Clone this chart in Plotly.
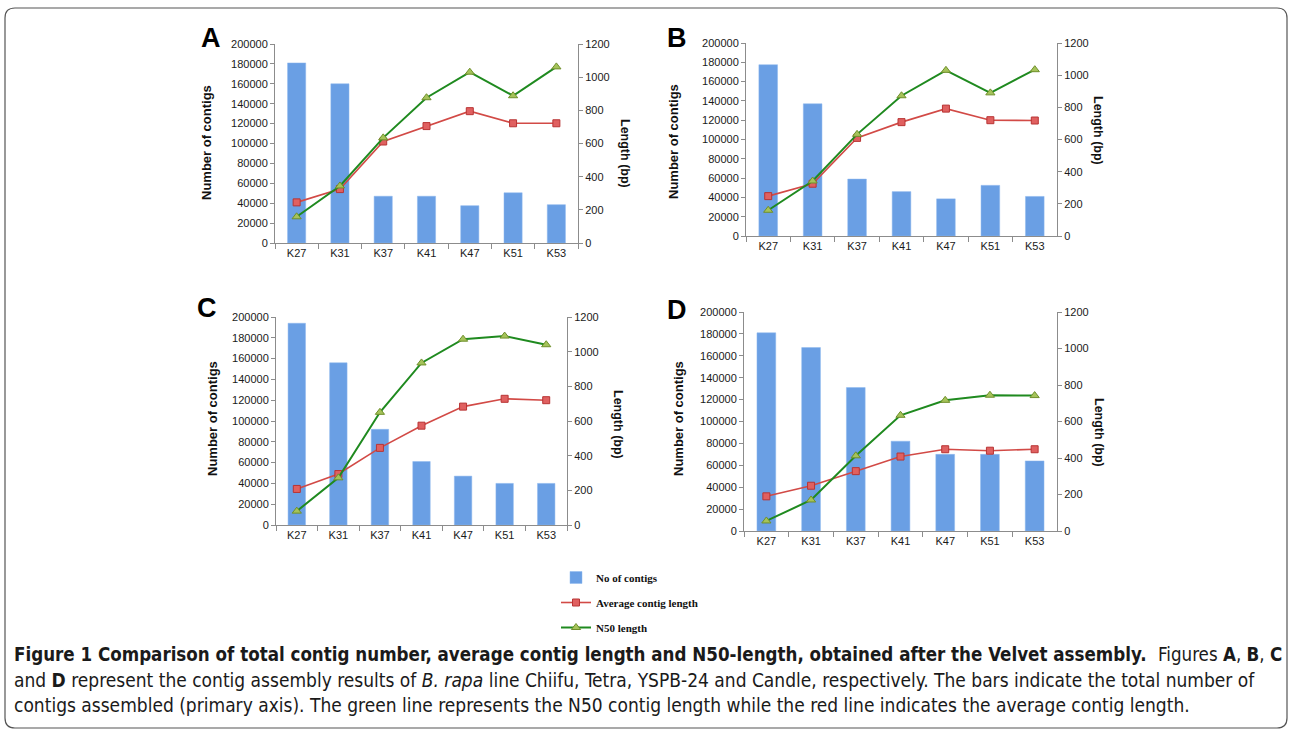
import plotly.graph_objects as go

categories = ["K27", "K31", "K37", "K41", "K47", "K51", "K53"]

# Number of contigs (primary axis)
contigs_A = [181000, 160000, 47000, 47000, 37500, 50500, 38500]
contigs_B = [177500, 137000, 59000, 46000, 38500, 52500, 41000]
contigs_C = [194000, 156000, 92000, 61000, 47000, 40000, 40000]
contigs_D = [181000, 167500, 131000, 82000, 70000, 70000, 64000]

# Average contig length (secondary axis, bp)
avg_A = [245, 325, 612, 705, 795, 722, 722]
avg_B = [248, 325, 610, 708, 792, 720, 718]
avg_C = [208, 294, 445, 573, 683, 728, 720]
avg_D = [190, 248, 328, 408, 448, 440, 448]

# N50 length (secondary axis, bp)
n50_A = [158, 344, 634, 876, 1030, 888, 1062]
n50_B = [160, 342, 632, 872, 1030, 890, 1034]
n50_C = [80, 272, 650, 935, 1072, 1090, 1040]
n50_D = [55, 170, 412, 634, 716, 744, 742]

panel_letters = ["A", "B", "C", "D"]
contigs = [contigs_A, contigs_B, contigs_C, contigs_D]
avgs = [avg_A, avg_B, avg_C, avg_D]
n50s = [n50_A, n50_B, n50_C, n50_D]

W, H = 1290, 733
def px(x):
    return x / W
def py(y):
    return 1 - y / H

# panel geometry in pixels: (left, right, top, bottom)
geom = [(275, 578, 44, 243), (746, 1057, 43, 236), (276, 567, 317, 525), (744, 1057, 312, 531)]
letter_pos = [(211, 38), (677, 38), (207, 308), (677, 310)]
ytitle_pos = [(206, 143), (673, 142), (212, 419), (678, 419)]
rtitle_pos = [(625, 153), (1098, 130), (618, 424), (1099, 432)]

BAR_COLOR = "#6a9fe4"
AXIS_COLOR = "#8c8c8c"
SANS = "Liberation Sans, Arial, sans-serif"
SERIF = "Liberation Serif, Times New Roman, serif"
TICK_FONT = dict(family=SANS, size=11, color="#1a1a1a")

fig = go.Figure()
layout = {}
annotations = []

def ann(text, x, y, **kw):
    d = dict(text=text, x=px(x), y=py(y), xref="paper", yref="paper",
             showarrow=False, xanchor="center", yanchor="middle")
    d.update(kw)
    return d

for i in range(4):
    xa = "x" if i == 0 else f"x{i+1}"
    yl_n = 2 * i + 1
    yr_n = 2 * i + 2
    yl = "y" if yl_n == 1 else f"y{yl_n}"
    yr = f"y{yr_n}"
    show = i == 0

    fig.add_trace(go.Bar(
        x=categories, y=contigs[i], xaxis=xa, yaxis=yl,
        marker=dict(color=BAR_COLOR, line=dict(color="#8fb8ee", width=0.5)),
        name="No of contigs", legendgroup="bars", showlegend=show))
    fig.add_trace(go.Scatter(
        x=categories, y=avgs[i], xaxis=xa, yaxis=yr, mode="lines+markers",
        line=dict(color="#d24a46", width=1.6),
        marker=dict(symbol="square", size=7, color="#e06060", line=dict(color="#b83434", width=1)),
        name="Average contig length", legendgroup="avg", showlegend=show))
    fig.add_trace(go.Scatter(
        x=categories, y=n50s[i], xaxis=xa, yaxis=yr, mode="lines+markers",
        line=dict(color="#1f8a1f", width=2),
        marker=dict(symbol="triangle-up", size=8, color="#a5c35a", line=dict(color="#6f8f2a", width=1)),
        name="N50 length", legendgroup="n50", showlegend=show))

    l, r, t, b = geom[i]
    xkey = "xaxis" if i == 0 else f"xaxis{i+1}"
    ylkey = "yaxis" if yl_n == 1 else f"yaxis{yl_n}"
    yrkey = f"yaxis{yr_n}"
    layout[xkey] = dict(
        domain=[px(l), px(r)], anchor=yl, type="category", automargin=False,
        showline=True, linecolor=AXIS_COLOR, linewidth=1,
        ticks="outside", tickson="boundaries", ticklen=5, tickcolor=AXIS_COLOR,
        showgrid=False, zeroline=False, tickfont=TICK_FONT, fixedrange=True)
    layout[ylkey] = dict(
        domain=[py(b), py(t)], anchor=xa, range=[0, 200000], dtick=20000, automargin=False,
        tickformat="d", showline=True, linecolor=AXIS_COLOR, linewidth=1,
        ticks="outside", ticklen=4, tickcolor=AXIS_COLOR, showgrid=False,
        zeroline=False, tickfont=TICK_FONT)
    layout[yrkey] = dict(
        overlaying=yl, side="right", anchor=xa, range=[0, 1200], dtick=200, automargin=False,
        tickformat="d", showline=True, linecolor=AXIS_COLOR, linewidth=1,
        ticks="outside", ticklen=4, tickcolor=AXIS_COLOR, showgrid=False,
        zeroline=False, tickfont=TICK_FONT)

    lx, ly = letter_pos[i]
    annotations.append(ann(f"<b>{panel_letters[i]}</b>", lx, ly,
                           font=dict(family=SANS, size=27, color="#000")))
    tx, ty = ytitle_pos[i]
    annotations.append(ann("<b>Number of contigs</b>", tx, ty, textangle=-90,
                           font=dict(family=SANS, size=13, color="#111")))
    rx, ry = rtitle_pos[i]
    annotations.append(ann("<b>Length (bp)</b>", rx, ry, textangle=90,
                           font=dict(family=SANS, size=12.5, color="#111")))

CAP_FONT = "Liberation Sans Narrow, Arial Narrow, DejaVu Sans Condensed, sans-serif"
caption_lines = [
    "and <b>D</b> represent the contig assembly results of <i>B. rapa</i> line Chiifu, Tetra, YSPB-24 and Candle, respectively. The bars indicate the total number of",
    "contigs assembled (primary axis). The green line represents the N50 contig length while the red line indicates the average contig length.",
]
cap_title = "<b>Figure 1 Comparison of total contig number, average contig length and N50-length, obtained after the Velvet assembly.</b>"
cap_title_tail = "Figures <b>A</b>, <b>B</b>, <b>C</b>"
annotations.append(ann(cap_title, 12, 654, xanchor="left",
                       font=dict(family=CAP_FONT, size=18.6, color="#1a1a1a")))
annotations.append(ann(cap_title_tail, 1284, 654, xanchor="right",
                       font=dict(family=CAP_FONT, size=18.6, color="#1a1a1a")))
for txt, cy in zip(caption_lines, [680, 705]):
    annotations.append(ann(txt, 12, cy, xanchor="left", align="left",
                           font=dict(family=CAP_FONT, size=19, color="#1a1a1a")))

# rounded border frame
x0, x1, y0, y1, rr = px(5), px(1287), py(728), py(8), 10
rx_, ry_ = rr / W, rr / H
path = (f"M {x0+rx_},{y1} L {x1-rx_},{y1} Q {x1},{y1} {x1},{y1-ry_} "
        f"L {x1},{y0+ry_} Q {x1},{y0} {x1-rx_},{y0} L {x0+rx_},{y0} "
        f"Q {x0},{y0} {x0},{y0+ry_} L {x0},{y1-ry_} Q {x0},{y1} {x0+rx_},{y1} Z")

fig.update_layout(
    **layout,
    template="none",
    width=W, height=H,
    margin=dict(l=0, r=0, t=0, b=0, pad=0, autoexpand=False),
    paper_bgcolor="white", plot_bgcolor="white",
    bargap=0.58,
    hovermode=False,
    annotations=annotations,
    shapes=[dict(type="path", path=path, xref="paper", yref="paper",
                 line=dict(color="#555", width=1.2), fillcolor="rgba(0,0,0,0)")],
    legend=dict(x=px(556), y=py(563), xanchor="left", yanchor="top",
                bgcolor="rgba(0,0,0,0)", tracegroupgap=6, traceorder="grouped",
                font=dict(family=SERIF, size=11, color="#111", weight="bold"),
                itemwidth=30),
    showlegend=True,
)

fig.write_html("out.html", config={"displayModeBar": False, "staticPlot": False},
               post_script="document.body.style.margin='0';document.body.style.overflow='hidden';")
